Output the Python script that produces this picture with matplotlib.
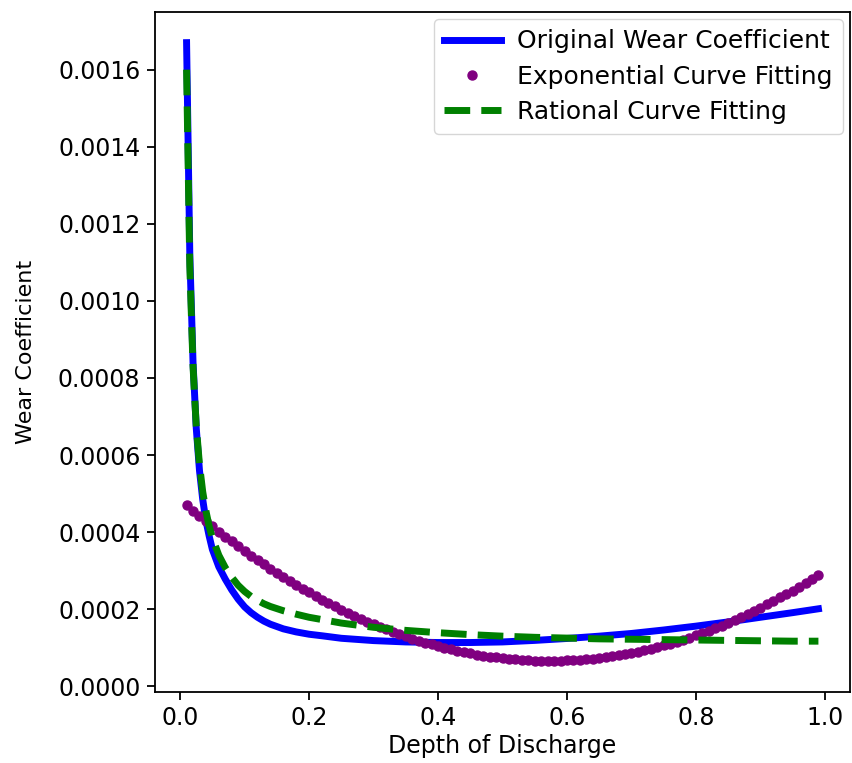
import matplotlib
matplotlib.use("Agg")
import matplotlib.pyplot as plt
import numpy as np

# --- data (y in units of 1e-4) ---
x_orig = [0.01, 0.015, 0.02, 0.025, 0.03, 0.035, 0.04, 0.045, 0.05, 0.06,
          0.07, 0.08, 0.09, 0.10, 0.11, 0.12, 0.13, 0.14, 0.16, 0.18,
          0.20, 0.22, 0.25, 0.30, 0.35, 0.40, 0.45, 0.50, 0.55, 0.60,
          0.65, 0.70, 0.75, 0.80, 0.85, 0.90, 0.95, 0.99]
y_orig = [16.7, 11.2, 8.4, 6.7, 5.6, 4.85, 4.3, 3.9, 3.55, 3.1,
          2.78, 2.50, 2.26, 2.06, 1.91, 1.79, 1.69, 1.61, 1.49, 1.41,
          1.35, 1.31, 1.245, 1.185, 1.15, 1.135, 1.135, 1.15, 1.19, 1.24,
          1.30, 1.37, 1.46, 1.56, 1.67, 1.79, 1.91, 2.01]

y_rational = [16.0, 10.9, 8.3, 6.75, 5.75, 5.05, 4.55, 4.15, 3.85, 3.40,
              3.08, 2.83, 2.62, 2.46, 2.33, 2.23, 2.14, 2.07, 1.96, 1.87,
              1.79, 1.73, 1.64, 1.53, 1.45, 1.39, 1.34, 1.30, 1.27, 1.25,
              1.23, 1.22, 1.21, 1.20, 1.19, 1.18, 1.17, 1.17]

x_exp = [round(0.01 * i, 2) for i in range(1, 100)]
y_exp = [4.700, 4.558, 4.418, 4.281, 4.146, 4.014, 3.885, 3.758, 3.633, 3.511,
         3.392, 3.275, 3.161, 3.049, 2.940, 2.833, 2.729, 2.628, 2.529, 2.433,
         2.339, 2.248, 2.159, 2.073, 1.989, 1.908, 1.829, 1.753, 1.680, 1.609,
         1.541, 1.475, 1.412, 1.351, 1.293, 1.237, 1.185, 1.134, 1.086, 1.041,
         0.998, 0.958, 0.920, 0.885, 0.852, 0.822, 0.795, 0.770, 0.747, 0.728,
         0.710, 0.695, 0.683, 0.674, 0.667, 0.662, 0.660, 0.661, 0.664, 0.669,
         0.678, 0.688, 0.702, 0.718, 0.736, 0.757, 0.780, 0.807, 0.835, 0.866,
         0.900, 0.936, 0.975, 1.017, 1.061, 1.107, 1.156, 1.208, 1.262, 1.318,
         1.378, 1.440, 1.504, 1.571, 1.640, 1.712, 1.787, 1.864, 1.950, 2.040,
         2.130, 2.220, 2.305, 2.390, 2.480, 2.575, 2.673, 2.775, 2.880]

scale = 1e-4

fig = plt.figure(figsize=(8.53, 7.63), dpi=100)
ax = fig.add_axes([0.1817, 0.0934, 0.8148, 0.8912])

ax.plot(x_orig, np.array(y_orig) * scale, color="blue", lw=5,
        label="Original Wear Coefficient")
ax.plot(x_exp, np.array(y_exp) * scale, "o", color="purple", ms=6.5,
        label="Exponential Curve Fitting")
ax.plot(x_orig, np.array(y_rational) * scale, "--", color="green", lw=5,
        label="Rational Curve Fitting")

for s in ax.spines.values():
    s.set_linewidth(1.3)
ax.tick_params(labelsize=17, length=5.5, width=1.3, pad=5)
ax.set_xlabel("Depth of Discharge", fontsize=17, labelpad=3)
ax.set_ylabel("Wear Coefficient", fontsize=16, labelpad=16)
ax.legend(loc="upper right", fontsize=18, labelspacing=0.45, handlelength=2.3,
          handletextpad=0.64, borderpad=0.4, borderaxespad=0.3)

fig.savefig("out.png", dpi=100)
